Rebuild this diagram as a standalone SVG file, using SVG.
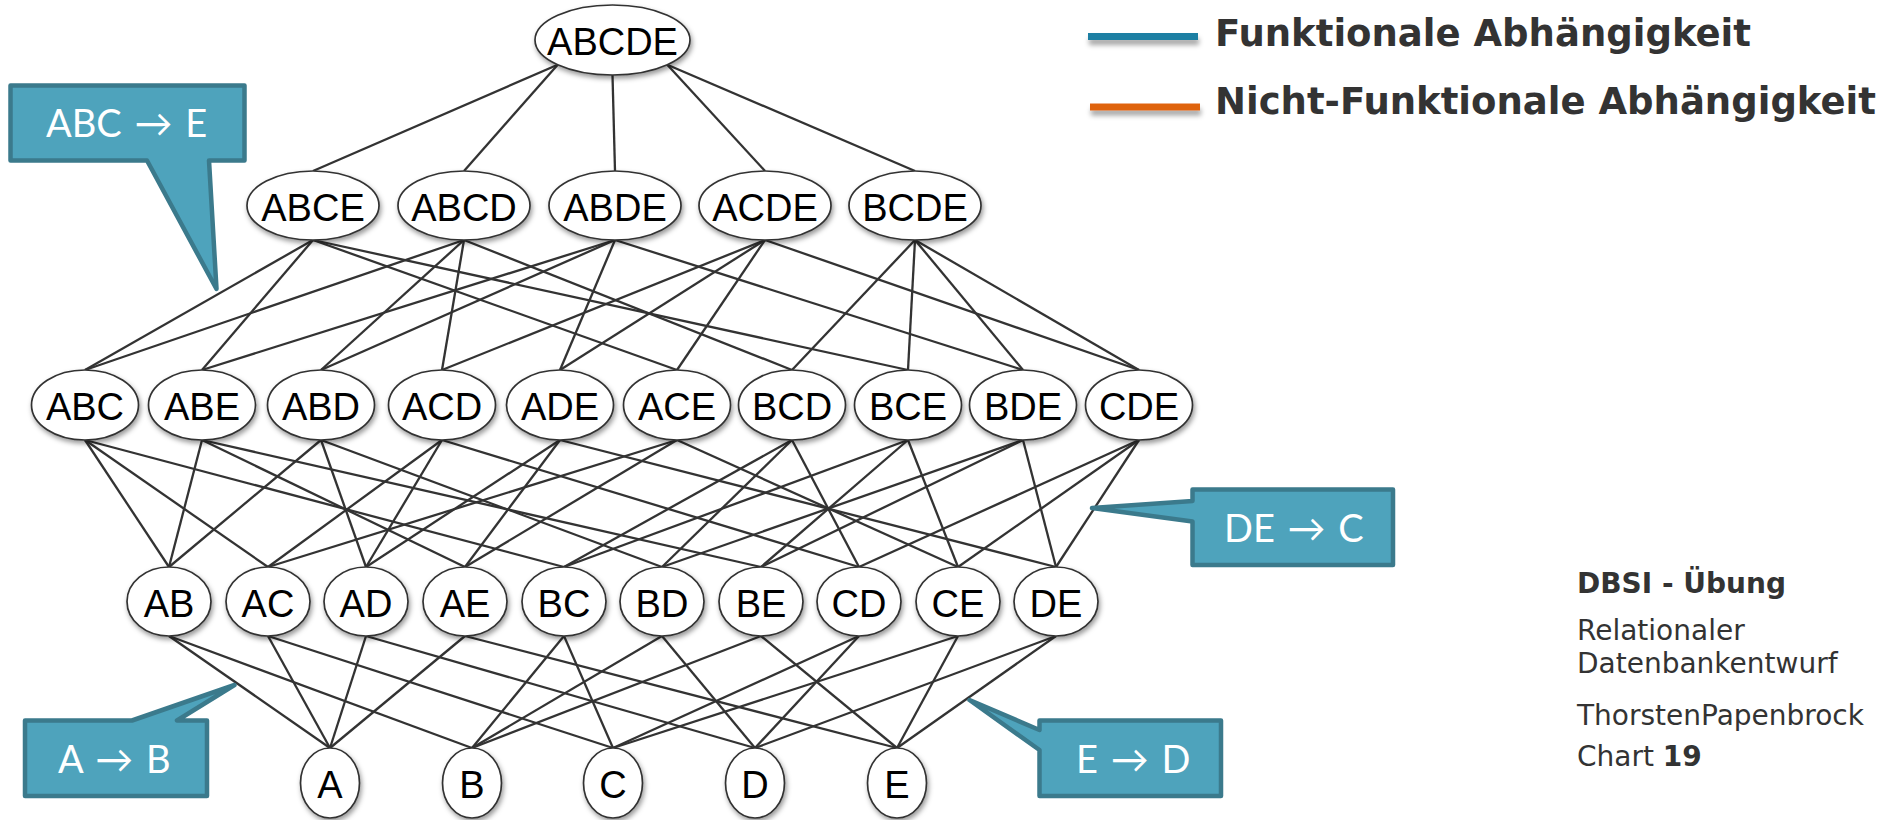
<svg xmlns="http://www.w3.org/2000/svg" width="1887" height="820" viewBox="0 0 1887 820">
  <defs>
    <filter id="nodeShadow" x="-30%" y="-30%" width="160%" height="170%">
      <feDropShadow dx="1.5" dy="3" stdDeviation="2.5" flood-color="#000" flood-opacity="0.4"/>
    </filter>
    <filter id="barShadow" x="-10%" y="-100%" width="120%" height="400%">
      <feDropShadow dx="1" dy="5" stdDeviation="2.5" flood-color="#000" flood-opacity="0.35"/>
    </filter>
  </defs>
  <style>
    .node ellipse { fill: #ffffff; stroke: #333333; stroke-width: 1.7; filter: url(#nodeShadow); }
    .node text { font-family: "Liberation Sans", Arial, sans-serif; font-size: 38px; text-anchor: middle; fill: #000000; }
    #edges line { stroke: #333333; stroke-width: 2.3; }
    .callout path { fill: #4ea3bc; stroke: #3b7a8c; stroke-width: 4.5; stroke-linejoin: round; }
    .callout text { font-family: Lato, "Open Sans", "DejaVu Sans", sans-serif; font-size: 38px; fill: #ffffff; word-spacing: 3px; }
    .legend text { font-family: "DejaVu Sans", Verdana, sans-serif; font-weight: bold; font-size: 37px; fill: #333333; }
    .legend rect { filter: url(#barShadow); }
    .info text { font-family: "DejaVu Sans", Verdana, sans-serif; font-size: 28px; fill: #333333; }
    .info .b { font-weight: bold; }
  </style>

  <rect width="1887" height="820" fill="#ffffff"/>

  <!-- connectors of the subset lattice -->
  <g id="edges">
    <!-- ABCDE to 4-sets -->
    <line x1="557.7" y1="64.7" x2="313" y2="171"/>
    <line x1="557.7" y1="64.7" x2="464" y2="171"/>
    <line x1="612.5" y1="75" x2="615" y2="171"/>
    <line x1="667.3" y1="64.7" x2="765" y2="171"/>
    <line x1="667.3" y1="64.7" x2="915" y2="171"/>
    <!-- 4-sets to 3-sets -->
    <line x1="313" y1="240" x2="85" y2="370"/>
    <line x1="313" y1="240" x2="202" y2="370"/>
    <line x1="313" y1="240" x2="677" y2="370"/>
    <line x1="313" y1="240" x2="908" y2="370"/>
    <line x1="464" y1="240" x2="85" y2="370"/>
    <line x1="464" y1="240" x2="321" y2="370"/>
    <line x1="464" y1="240" x2="442" y2="370"/>
    <line x1="464" y1="240" x2="792" y2="370"/>
    <line x1="615" y1="240" x2="202" y2="370"/>
    <line x1="615" y1="240" x2="321" y2="370"/>
    <line x1="615" y1="240" x2="560" y2="370"/>
    <line x1="615" y1="240" x2="1023" y2="370"/>
    <line x1="765" y1="240" x2="442" y2="370"/>
    <line x1="765" y1="240" x2="677" y2="370"/>
    <line x1="765" y1="240" x2="560" y2="370"/>
    <line x1="765" y1="240" x2="1139" y2="370"/>
    <line x1="915" y1="240" x2="792" y2="370"/>
    <line x1="915" y1="240" x2="908" y2="370"/>
    <line x1="915" y1="240" x2="1023" y2="370"/>
    <line x1="915" y1="240" x2="1139" y2="370"/>
    <!-- 3-sets to 2-sets -->
    <line x1="85" y1="440" x2="169" y2="567"/>
    <line x1="85" y1="440" x2="268" y2="567"/>
    <line x1="85" y1="440" x2="564" y2="567"/>
    <line x1="202" y1="440" x2="169" y2="567"/>
    <line x1="202" y1="440" x2="465" y2="567"/>
    <line x1="202" y1="440" x2="761" y2="567"/>
    <line x1="321" y1="440" x2="169" y2="567"/>
    <line x1="321" y1="440" x2="366" y2="567"/>
    <line x1="321" y1="440" x2="662" y2="567"/>
    <line x1="442" y1="440" x2="268" y2="567"/>
    <line x1="442" y1="440" x2="366" y2="567"/>
    <line x1="442" y1="440" x2="859" y2="567"/>
    <line x1="560" y1="440" x2="366" y2="567"/>
    <line x1="560" y1="440" x2="465" y2="567"/>
    <line x1="560" y1="440" x2="1056" y2="567"/>
    <line x1="677" y1="440" x2="268" y2="567"/>
    <line x1="677" y1="440" x2="465" y2="567"/>
    <line x1="677" y1="440" x2="958" y2="567"/>
    <line x1="792" y1="440" x2="564" y2="567"/>
    <line x1="792" y1="440" x2="662" y2="567"/>
    <line x1="792" y1="440" x2="859" y2="567"/>
    <line x1="908" y1="440" x2="564" y2="567"/>
    <line x1="908" y1="440" x2="761" y2="567"/>
    <line x1="908" y1="440" x2="958" y2="567"/>
    <line x1="1023" y1="440" x2="662" y2="567"/>
    <line x1="1023" y1="440" x2="761" y2="567"/>
    <line x1="1023" y1="440" x2="1056" y2="567"/>
    <line x1="1139" y1="440" x2="859" y2="567"/>
    <line x1="1139" y1="440" x2="958" y2="567"/>
    <line x1="1139" y1="440" x2="1056" y2="567"/>
    <!-- 2-sets to single attributes -->
    <line x1="169" y1="636" x2="330" y2="748"/>
    <line x1="169" y1="636" x2="472" y2="748"/>
    <line x1="268" y1="636" x2="330" y2="748"/>
    <line x1="268" y1="636" x2="613" y2="748"/>
    <line x1="366" y1="636" x2="330" y2="748"/>
    <line x1="366" y1="636" x2="755" y2="748"/>
    <line x1="465" y1="636" x2="330" y2="748"/>
    <line x1="465" y1="636" x2="897" y2="748"/>
    <line x1="564" y1="636" x2="472" y2="748"/>
    <line x1="564" y1="636" x2="613" y2="748"/>
    <line x1="662" y1="636" x2="472" y2="748"/>
    <line x1="662" y1="636" x2="755" y2="748"/>
    <line x1="761" y1="636" x2="472" y2="748"/>
    <line x1="761" y1="636" x2="897" y2="748"/>
    <line x1="859" y1="636" x2="613" y2="748"/>
    <line x1="859" y1="636" x2="755" y2="748"/>
    <line x1="958" y1="636" x2="613" y2="748"/>
    <line x1="958" y1="636" x2="897" y2="748"/>
    <line x1="1056" y1="636" x2="755" y2="748"/>
    <line x1="1056" y1="636" x2="897" y2="748"/>
  </g>

  <!-- level 0 -->
  <g id="n-ABCDE" class="node"><ellipse cx="612.5" cy="40" rx="77.5" ry="35"/><text x="612.5" y="55">ABCDE</text></g>

  <!-- level 1 -->
  <g id="n-ABCE" class="node"><ellipse cx="313" cy="205.5" rx="66" ry="34.5"/><text x="313" y="220.5">ABCE</text></g>
  <g id="n-ABCD" class="node"><ellipse cx="464" cy="205.5" rx="66" ry="34.5"/><text x="464" y="220.5">ABCD</text></g>
  <g id="n-ABDE" class="node"><ellipse cx="615" cy="205.5" rx="66" ry="34.5"/><text x="615" y="220.5">ABDE</text></g>
  <g id="n-ACDE" class="node"><ellipse cx="765" cy="205.5" rx="66" ry="34.5"/><text x="765" y="220.5">ACDE</text></g>
  <g id="n-BCDE" class="node"><ellipse cx="915" cy="205.5" rx="66" ry="34.5"/><text x="915" y="220.5">BCDE</text></g>

  <!-- level 2 -->
  <g id="n-ABC" class="node"><ellipse cx="85" cy="405" rx="53.5" ry="35"/><text x="85" y="420">ABC</text></g>
  <g id="n-ABE" class="node"><ellipse cx="202" cy="405" rx="53.5" ry="35"/><text x="202" y="420">ABE</text></g>
  <g id="n-ABD" class="node"><ellipse cx="321" cy="405" rx="53.5" ry="35"/><text x="321" y="420">ABD</text></g>
  <g id="n-ACD" class="node"><ellipse cx="442" cy="405" rx="53.5" ry="35"/><text x="442" y="420">ACD</text></g>
  <g id="n-ADE" class="node"><ellipse cx="560" cy="405" rx="53.5" ry="35"/><text x="560" y="420">ADE</text></g>
  <g id="n-ACE" class="node"><ellipse cx="677" cy="405" rx="53.5" ry="35"/><text x="677" y="420">ACE</text></g>
  <g id="n-BCD" class="node"><ellipse cx="792" cy="405" rx="53.5" ry="35"/><text x="792" y="420">BCD</text></g>
  <g id="n-BCE" class="node"><ellipse cx="908" cy="405" rx="53.5" ry="35"/><text x="908" y="420">BCE</text></g>
  <g id="n-BDE" class="node"><ellipse cx="1023" cy="405" rx="53.5" ry="35"/><text x="1023" y="420">BDE</text></g>
  <g id="n-CDE" class="node"><ellipse cx="1139" cy="405" rx="53.5" ry="35"/><text x="1139" y="420">CDE</text></g>

  <!-- level 3 -->
  <g id="n-AB" class="node"><ellipse cx="169" cy="601.5" rx="42" ry="34.5"/><text x="169" y="616.5">AB</text></g>
  <g id="n-AC" class="node"><ellipse cx="268" cy="601.5" rx="42" ry="34.5"/><text x="268" y="616.5">AC</text></g>
  <g id="n-AD" class="node"><ellipse cx="366" cy="601.5" rx="42" ry="34.5"/><text x="366" y="616.5">AD</text></g>
  <g id="n-AE" class="node"><ellipse cx="465" cy="601.5" rx="42" ry="34.5"/><text x="465" y="616.5">AE</text></g>
  <g id="n-BC" class="node"><ellipse cx="564" cy="601.5" rx="42" ry="34.5"/><text x="564" y="616.5">BC</text></g>
  <g id="n-BD" class="node"><ellipse cx="662" cy="601.5" rx="42" ry="34.5"/><text x="662" y="616.5">BD</text></g>
  <g id="n-BE" class="node"><ellipse cx="761" cy="601.5" rx="42" ry="34.5"/><text x="761" y="616.5">BE</text></g>
  <g id="n-CD" class="node"><ellipse cx="859" cy="601.5" rx="42" ry="34.5"/><text x="859" y="616.5">CD</text></g>
  <g id="n-CE" class="node"><ellipse cx="958" cy="601.5" rx="42" ry="34.5"/><text x="958" y="616.5">CE</text></g>
  <g id="n-DE" class="node"><ellipse cx="1056" cy="601.5" rx="42" ry="34.5"/><text x="1056" y="616.5">DE</text></g>

  <!-- level 4 -->
  <g id="n-A" class="node"><ellipse cx="330" cy="783" rx="29.5" ry="35"/><text x="330" y="798">A</text></g>
  <g id="n-B" class="node"><ellipse cx="472" cy="783" rx="29.5" ry="35"/><text x="472" y="798">B</text></g>
  <g id="n-C" class="node"><ellipse cx="613" cy="783" rx="29.5" ry="35"/><text x="613" y="798">C</text></g>
  <g id="n-D" class="node"><ellipse cx="755" cy="783" rx="29.5" ry="35"/><text x="755" y="798">D</text></g>
  <g id="n-E" class="node"><ellipse cx="897" cy="783" rx="29.5" ry="35"/><text x="897" y="798">E</text></g>

  <!-- dependency callouts -->
  <g id="callout-ABC-E" class="callout">
    <path d="M10.5,85.5 H244.5 V160.5 H209 L216.5,289 L147,160.5 H10.5 Z"/>
    <text x="46" y="137">ABC → E</text>
  </g>
  <g id="callout-A-B" class="callout">
    <path d="M25,720.5 H132 L234.5,685 L177,720.5 H207 V796 H25 Z"/>
    <text x="58" y="773">A → B</text>
  </g>
  <g id="callout-DE-C" class="callout">
    <path d="M1192.5,489.5 H1393 V565 H1192.5 V521.5 L1092,508 L1192.5,501 Z"/>
    <text x="1224" y="542">DE → C</text>
  </g>
  <g id="callout-E-D" class="callout">
    <path d="M1039.5,720.5 H1221 V796 H1039.5 V750 L969.5,700 L1039.5,730 Z"/>
    <text x="1076" y="773">E → D</text>
  </g>

  <!-- legend -->
  <g id="legend" class="legend">
    <rect x="1088" y="33" width="110" height="7" fill="#1b7fa3"/>
    <text x="1215" y="46">Funktionale Abhängigkeit</text>
    <rect x="1090" y="103.5" width="110" height="7" fill="#df6410"/>
    <text x="1215" y="114">Nicht-Funktionale Abhängigkeit</text>
  </g>

  <!-- slide footer info -->
  <g id="info" class="info">
    <text class="b" x="1577" y="593">DBSI - Übung</text>
    <text x="1577" y="640">Relationaler</text>
    <text x="1577" y="673">Datenbankentwurf</text>
    <text x="1577" y="725">ThorstenPapenbrock</text>
    <text x="1577" y="766">Chart <tspan class="b">19</tspan></text>
  </g>
</svg>
